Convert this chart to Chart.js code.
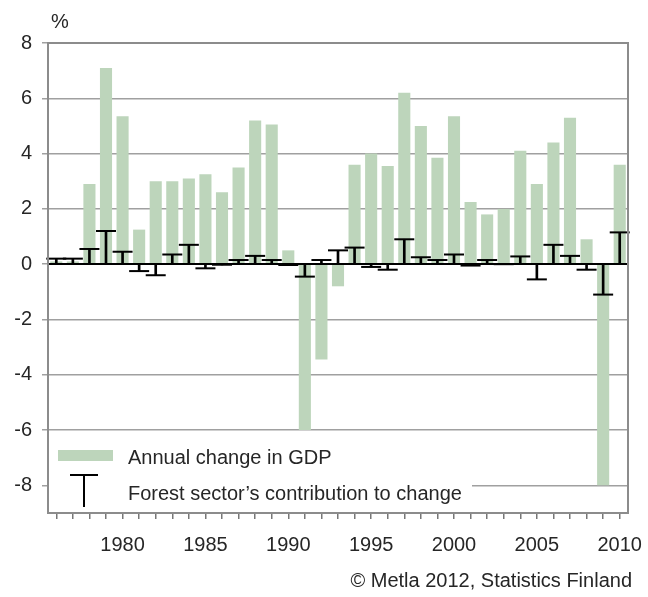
<!DOCTYPE html>
<html>
<head>
<meta charset="utf-8">
<script src="https://cdn.jsdelivr.net/npm/chart.js@4/dist/chart.umd.min.js"></script>
<style>
	html, body { margin: 0; padding: 0; background: #fff; }
	#wrap { width: 648px; height: 597px; position: relative; }
</style>
</head>
<body>
<div id="wrap"><canvas id="chart"></canvas></div>
<script>
/* global Chart */
const years = [
	1976, 1977, 1978, 1979, 1980, 1981, 1982, 1983, 1984, 1985,
	1986, 1987, 1988, 1989, 1990, 1991, 1992, 1993, 1994, 1995,
	1996, 1997, 1998, 1999, 2000, 2001, 2002, 2003, 2004, 2005,
	2006, 2007, 2008, 2009, 2010
];

// Annual change in GDP, %
const gdpChange = [
	0.1, 0.1, 2.9, 7.1, 5.35, 1.25, 3.0, 3.0, 3.1, 3.25,
	2.6, 3.5, 5.2, 5.05, 0.5, -6.0, -3.45, -0.8, 3.6, 4.0,
	3.55, 6.2, 5.0, 3.85, 5.35, 2.25, 1.8, 2.0, 4.1, 2.9,
	4.4, 5.3, 0.9, -8.0, 3.6
];

// Forest sector's contribution to change, %-points
const forestContribution = [
	0.2, 0.2, 0.55, 1.2, 0.45, -0.25, -0.4, 0.35, 0.7, -0.15,
	-0.02, 0.15, 0.3, 0.15, -0.03, -0.45, 0.15, 0.5, 0.6, -0.1,
	-0.2, 0.9, 0.25, 0.15, 0.35, -0.05, 0.15, 0.0, 0.28, -0.55,
	0.7, 0.3, -0.2, -1.1, 1.15
];

const yTicks = [-8, -6, -4, -2, 0, 2, 4, 6, 8];

const legendLabels = ['Annual change in GDP', 'Forest sector\u2019s contribution to change'];
const unitLabel = '%';
const sourceText = '\u00a9 Metla 2012, Statistics Finland';

const barColor = '#bdd5bb';
const gridColor = '#a0a0a0';
const textColor = '#262626';
const font = 'Liberation Sans, Arial, sans-serif';

// Legend, unit label, frame and source line
const decorations = {
	id: 'decorations',
	beforeDatasetsDraw(chart) {
		const ctx = chart.ctx;
		const area = chart.chartArea;
		ctx.save();
		// white legend box over the grid
		ctx.fillStyle = '#fff';
		ctx.fillRect(area.left + 1, 441, 423, area.bottom - 441 - 2);
		// swatch
		ctx.fillStyle = barColor;
		ctx.fillRect(58, 450, 55, 11);
		// T symbol
		ctx.strokeStyle = '#000';
		ctx.lineWidth = 2;
		ctx.beginPath();
		ctx.moveTo(70, 475);
		ctx.lineTo(98, 475);
		ctx.moveTo(84, 475);
		ctx.lineTo(84, 507);
		ctx.stroke();
		ctx.fillStyle = textColor;
		ctx.font = '20px ' + font;
		ctx.textAlign = 'left';
		ctx.textBaseline = 'alphabetic';
		ctx.fillText(legendLabels[0], 128, 464);
		ctx.fillText(legendLabels[1], 128, 500);
		ctx.restore();
	},
	afterDatasetsDraw(chart) {
		const ctx = chart.ctx;
		const area = chart.chartArea;
		const y = chart.scales.y;
		ctx.save();
		// zero line on top of the bars
		const y0 = Math.round(y.getPixelForValue(0));
		ctx.strokeStyle = '#000';
		ctx.lineWidth = 2;
		ctx.beginPath();
		ctx.moveTo(area.left, y0);
		ctx.lineTo(area.right, y0);
		ctx.stroke();
		// frame
		ctx.strokeStyle = '#8c8c8c';
		ctx.lineWidth = 2;
		ctx.strokeRect(area.left, area.top, area.right - area.left, area.bottom - area.top);
		ctx.restore();
	},
	afterDraw(chart) {
		const ctx = chart.ctx;
		ctx.save();
		ctx.fillStyle = textColor;
		ctx.font = '20px ' + font;
		ctx.textAlign = 'center';
		ctx.textBaseline = 'alphabetic';
		ctx.fillText(unitLabel, 60, 28);
		ctx.textAlign = 'right';
		ctx.fillText(sourceText, 632, 587);
		ctx.restore();
	}
};

const canvas = document.getElementById('chart');

const graph = new Chart(canvas, {
	type: 'bar',
	data: {
		labels: years.map(String),
		datasets: [
			{
				label: legendLabels[0],
				data: gdpChange,
				backgroundColor: barColor,
				borderWidth: 0,
				grouped: false,
				categoryPercentage: 1,
				barPercentage: 0.73,
				order: 3
			},
			{
				label: legendLabels[1],
				data: forestContribution.map((v) => [0, v]),
				backgroundColor: '#000',
				borderWidth: 0,
				grouped: false,
				barThickness: 2,
				order: 2
			},
			{
				type: 'line',
				label: 'caps',
				data: forestContribution,
				showLine: false,
				pointStyle: 'line',
				pointRadius: 10,
				pointHoverRadius: 10,
				pointBorderWidth: 2,
				pointBorderColor: '#000',
				borderColor: '#000',
				order: 1
			}
		]
	},
	options: {
		responsive: true,
		maintainAspectRatio: false,
		animation: false,
		events: [],
		layout: { padding: { top: 43, right: 20, left: 0, bottom: 0 } },
		plugins: {
			legend: { display: false },
			tooltip: { enabled: false }
		},
		scales: {
			x: {
				offset: true,
				grid: {
					offset: false,
					drawOnChartArea: false,
					drawTicks: true,
					tickLength: 6,
					color: '#777',
					lineWidth: 1.5
				},
				border: { display: false },
				ticks: {
					autoSkip: false,
					maxRotation: 0,
					padding: 14,
					color: textColor,
					font: { family: font, size: 20 },
					callback: (v, i) => (years[i] % 5 === 0 ? String(years[i]) : '')
				},
				afterFit: (scale) => {
					scale.height = 597 - 513;
					scale.paddingLeft = 0;
					scale.paddingRight = 0;
				}
			},
			y: {
				min: -9,
				max: 8,
				afterBuildTicks: (scale) => { scale.ticks = yTicks.map((v) => ({ value: v })); },
				grid: {
					color: gridColor,
					lineWidth: 1.5,
					tickLength: 6,
					drawTicks: true
				},
				border: { display: false },
				ticks: {
					padding: 10,
					color: textColor,
					font: { family: font, size: 20 }
				},
				afterFit: (scale) => { scale.width = 48; }
			}
		}
	},
	plugins: [decorations]
});
</script>
</body>
</html>
